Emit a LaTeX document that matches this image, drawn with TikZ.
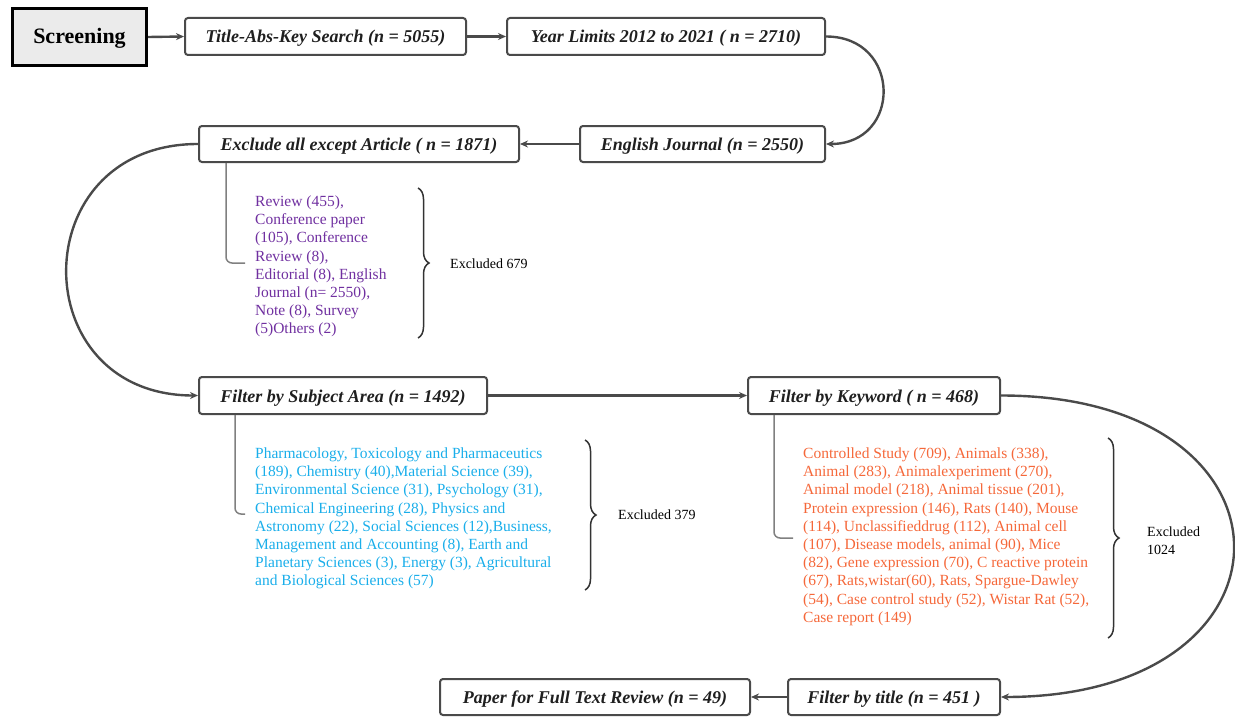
\documentclass[tikz,border=0pt]{standalone}
\usepackage{fontspec}
\setmainfont{Liberation Serif}
\usetikzlibrary{arrows.meta,decorations.pathreplacing}
\definecolor{boxline}{HTML}{4A4A4A}
\definecolor{purp}{HTML}{7030A0}
\definecolor{cyantext}{HTML}{1AAEEA}
\definecolor{orangetext}{HTML}{F5683A}
\definecolor{screenfill}{HTML}{EBEBEB}
\tikzset{
  x=1pt, y=-1pt,
  flowbox/.style={draw=boxline, line width=2pt, rounded corners=3pt, fill=white,
    inner sep=0pt, text height=16pt, text depth=3pt,
    font=\fontsize{18}{21}\selectfont\bfseries\itshape, text=black!88},
  screenbox/.style={draw=black, line width=3.4pt, fill=screenfill, inner sep=0pt,
    text height=18pt, text depth=4pt,
    font=\fontsize{22}{26}\selectfont\bfseries},
  flow/.style={draw=boxline, line width=2.4pt, -{Stealth[length=8pt,width=7pt]}},
  leader/.style={draw=gray, line width=1.5pt, rounded corners=6pt},
  listtext/.style={inner sep=0pt, anchor=north west, align=left,
    font=\fontsize{15.5}{18.2}\selectfont},
  bracer/.style={draw=black!80, line width=1.5pt, decorate,
    decoration={brace, amplitude=11pt, raise=0pt}},
  exclabel/.style={inner sep=0pt, anchor=west, align=left,
    font=\fontsize{14}{18}\selectfont}
}
\begin{document}
\begin{tikzpicture}
\useasboundingbox (0,0) rectangle (1235,717);
% boxes
\node[screenbox, minimum width=134, minimum height=57] (scr) at (79.5,37) {Screening};
\node[flowbox, minimum width=281, minimum height=37] (tak) at (325.5,36.5) {Title-Abs-Key Search (n = 5055)};
\node[flowbox, minimum width=318, minimum height=37] (yr) at (666,36.5) {Year Limits 2012 to 2021 ( n = 2710)};
\node[flowbox, minimum width=245, minimum height=36] (ej) at (702.5,144) {English Journal (n = 2550)};
\node[flowbox, minimum width=320, minimum height=36] (ex) at (359,144) {Exclude all except Article ( n = 1871)};
\node[flowbox, minimum width=288, minimum height=37] (sa) at (343,395.5) {Filter by Subject Area (n = 1492)};
\node[flowbox, minimum width=252, minimum height=37] (kw) at (874,395.5) {Filter by Keyword ( n = 468)};
\node[flowbox, minimum width=212, minimum height=36] (ft) at (894,697) {Filter by title (n = 451 )};
\node[flowbox, minimum width=310, minimum height=36] (pp) at (595,697) {Paper for Full Text Review (n = 49)};
% connectors
\draw[flow] (scr.east) -- (tak.west);
\draw[flow] (tak.east) -- (yr.west);
\draw[flow] (yr.east) .. controls +(76,0) and +(76,0) .. (ej.east);
\draw[flow] (ej.west) -- (ex.east);
\draw[flow] (ex.west) .. controls +(-175,0) and +(-175,0) .. (sa.west);
\draw[flow] (sa.east) -- (kw.west);
\draw[flow] (kw.east) .. controls +(310,0) and +(310,0) .. (ft.east);
\draw[flow] (ft.west) -- (pp.east);
% list texts
\node[listtext, text=purp] (l1) at (255,195.5) {Review (455),\\Conference paper\\(105), Conference\\Review (8),\\Editorial (8), English\\Journal (n= 2550),\\Note (8), Survey\\(5)Others (2)};
\node[listtext, text=cyantext] (l2) at (255,447.5) {Pharmacology, Toxicology and Pharmaceutics\\(189), Chemistry (40),Material Science (39),\\Environmental Science (31), Psychology (31),\\Chemical Engineering (28), Physics and\\Astronomy (22), Social Sciences (12),Business,\\Management and Accounting (8), Earth and\\Planetary Sciences (3), Energy (3), Agricultural\\and Biological Sciences (57)};
\node[listtext, text=orangetext] (l3) at (803,447.5) {Controlled Study (709), Animals (338),\\Animal (283), Animalexperiment (270),\\Animal model (218), Animal tissue (201),\\Protein expression (146), Rats (140), Mouse\\(114), Unclassifieddrug (112), Animal cell\\(107), Disease models, animal (90), Mice\\(82), Gene expression (70), C reactive protein\\(67), Rats,wistar(60), Rats, Spargue-Dawley\\(54), Case control study (52), Wistar Rat (52),\\Case report (149)};
% leader lines
\coordinate (c1) at (245,263);
\coordinate (c2) at (245,514);
\coordinate (c3) at (793,538);
\draw[leader] (ex.south -| 226,0) |- (c1);
\draw[leader] (sa.south -| 235,0) |- (c2);
\draw[leader] (kw.south -| 774,0) |- (c3);
% braces
\coordinate (b1t) at (418,188);
\coordinate (b1b) at (418,338);
\coordinate (b2t) at (585,440);
\coordinate (b2b) at (585,590);
\coordinate (b3t) at (1108,438);
\coordinate (b3b) at (1108,638);
\draw[bracer] (b1t) -- (b1b);
\draw[bracer] (b2t) -- (b2b);
\draw[bracer] (b3t) -- (b3b);
\node[exclabel] (e1) at (450,264) {Excluded 679};
\node[exclabel] (e2) at (618,515) {Excluded 379};
\node[exclabel] (e3) at (1147,541) {Excluded\\1024};
\end{tikzpicture}
\end{document}
